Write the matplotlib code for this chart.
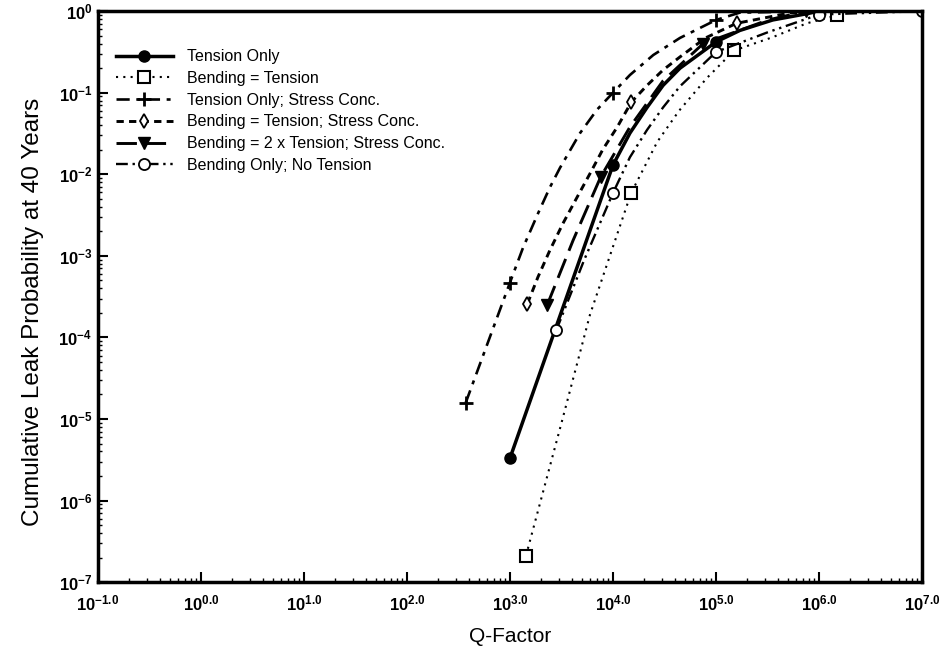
import matplotlib
matplotlib.use('Agg')
import matplotlib.pyplot as plt
from matplotlib.ticker import FixedLocator, LogLocator, NullFormatter

plt.rcParams['font.family'] = ['Liberation Sans', 'DejaVu Sans']
plt.rcParams['mathtext.fontset'] = 'custom'
plt.rcParams['mathtext.rm'] = 'Liberation Sans'
plt.rcParams['mathtext.bf'] = 'Liberation Sans:bold'

# values; markers only at the listed indices
tension_x = [1.0e3, 1.0e4, 1.46e4, 2.14e4, 3.06e4, 4.47e4, 1.0e5, 1.7e5, 3.55e5, 7.6e5, 1.0e6]
tension_y = [3.3e-6, 0.013, 0.032, 0.066, 0.123, 0.20, 0.42, 0.58, 0.78, 0.93, 1.0]
tension_mk = [0, 1, 6, 10]

bend_x = [1.43e3, 3.16e3, 5.98e3, 1.5e4, 2.69e4, 4.37e4, 8.13e4, 1.5e5, 3.55e5, 7.6e5, 1.5e6]
bend_y = [2.1e-7, 8.9e-6, 1.9e-4, 5.9e-3, 0.025, 0.060, 0.151, 0.33, 0.48, 0.71, 0.89]
bend_mk = [0, 3, 7, 10]

tsc_x = [3.72e2, 1.0e3, 1.34e3, 1.87e3, 2.44e3, 3.06e3, 4.79e3, 7.0e3, 1.0e4, 1.46e4,
         2.46e4, 4.47e4, 1.0e5, 1.7e5, 1.0e6]
tsc_y = [1.58e-5, 4.7e-4, 1.26e-3, 3.3e-3, 6.9e-3, 0.012, 0.032, 0.062, 0.10, 0.165,
         0.29, 0.47, 0.78, 0.96, 1.0]
tsc_mk = [0, 1, 8, 12]

btsc_x = [1.48e3, 1.87e3, 2.44e3, 3.27e3, 4.47e3, 5.98e3, 7.94e3, 1.1e4, 1.51e4, 2.14e4,
          3.06e4, 4.47e4, 7.9e4, 1.58e5, 5.2e5, 1.5e6]
btsc_y = [2.6e-4, 5.5e-4, 1.17e-3, 2.5e-3, 5.2e-3, 0.0102, 0.020, 0.038, 0.077, 0.123,
          0.19, 0.275, 0.47, 0.71, 0.95, 1.0]
btsc_mk = [0, 8, 13]

b2t_x = [2.3e3, 4.1e3, 7.6e3, 1.46e4, 3.06e4, 7.5e4, 3.2e5, 7.5e5]
b2t_y = [2.5e-4, 1.55e-3, 9.3e-3, 0.038, 0.14, 0.40, 0.78, 1.0]
b2t_mk = [0, 2, 5, 7]

bonly_x = [2.82e3, 5.25e3, 1.0e4, 1.46e4, 2.14e4, 3.06e4, 4.47e4, 1.0e5, 3.16e5, 1.0e6, 1.0e7]
bonly_y = [1.23e-4, 8.9e-4, 5.9e-3, 0.0162, 0.035, 0.066, 0.12, 0.316, 0.55, 0.91, 1.0]
bonly_mk = [0, 2, 7, 9, 10]

labels = ['Tension Only', 'Bending = Tension', 'Tension Only; Stress Conc.',
          'Bending = Tension; Stress Conc.', 'Bending = 2 x Tension; Stress Conc.',
          'Bending Only; No Tension']

x_ticks = [-1, 0, 1, 2, 3, 4, 5, 6, 7]
y_ticks = [-7, -6, -5, -4, -3, -2, -1, 0]

fig = plt.figure(figsize=(9.4, 6.57), dpi=100)
ax = fig.add_axes([0.104, 0.114, 0.877, 0.869])

k = 'black'
ax.plot(tension_x, tension_y, color=k, lw=2.5, ls='-', marker='o', ms=8,
        markevery=tension_mk, label=labels[0])
ax.plot(bend_x, bend_y, color=k, lw=1.5, ls=(0, (1, 2.5)), marker='s', ms=8,
        mfc='white', mew=1.5, markevery=bend_mk, label=labels[1])
ax.plot(tsc_x, tsc_y, color=k, lw=1.9, ls=(0, (5, 2.5, 1.5, 2.5)), marker='+',
        ms=10, mew=2, markevery=tsc_mk, label=labels[2])
ax.plot(btsc_x, btsc_y, color=k, lw=2.1, ls=(0, (2.5, 1.8)), marker='d', ms=7,
        mfc='white', mew=1.3, markevery=btsc_mk, label=labels[3])
ax.plot(b2t_x, b2t_y, color=k, lw=2.1, ls=(0, (7, 3)), marker='v', ms=8,
        markevery=b2t_mk, label=labels[4])
ax.plot(bonly_x, bonly_y, color=k, lw=1.7, ls=(0, (5, 2, 1, 2, 1, 2)), marker='o',
        ms=8, mfc='white', mew=1.3, markevery=bonly_mk, label=labels[5])

ax.set_xscale('log')
ax.set_yscale('log')
ax.set_xlim(10.0 ** x_ticks[0], 10.0 ** x_ticks[-1])
ax.set_ylim(10.0 ** y_ticks[0], 10.0 ** y_ticks[-1])

ax.xaxis.set_major_locator(FixedLocator([10.0 ** t for t in x_ticks]))
ax.yaxis.set_major_locator(FixedLocator([10.0 ** t for t in y_ticks]))
ax.set_xticklabels([r'$\mathbf{10^{%.1f}}$' % t for t in x_ticks])
ax.set_yticklabels([r'$\mathbf{10^{%d}}$' % t for t in y_ticks])
ax.xaxis.set_minor_locator(LogLocator(base=10, subs=range(2, 10), numticks=20))
ax.yaxis.set_minor_locator(LogLocator(base=10, subs=range(2, 10), numticks=20))
ax.xaxis.set_minor_formatter(NullFormatter())
ax.yaxis.set_minor_formatter(NullFormatter())

ax.tick_params(which='both', direction='in', top=False, right=False, labelsize=12)
ax.tick_params(which='major', length=7, width=1.5)
ax.tick_params(axis='x', which='major', pad=8)
ax.tick_params(axis='y', which='major', pad=4)
ax.tick_params(which='minor', length=3, width=1)
for s in ax.spines.values():
    s.set_linewidth(2.5)

ax.set_xlabel('Q-Factor', fontsize=15, labelpad=10)
ax.set_ylabel('Cumulative Leak Probability at 40 Years', fontsize=17.5)
ax.yaxis.set_label_coords(-0.065, 0.473)

ax.legend(loc='upper left', bbox_to_anchor=(0.01, 0.95), frameon=False, fontsize=11.5,
          handlelength=3.6, labelspacing=0.42, handletextpad=0.9, borderaxespad=0.2)

fig.savefig('out.png', dpi=100)
